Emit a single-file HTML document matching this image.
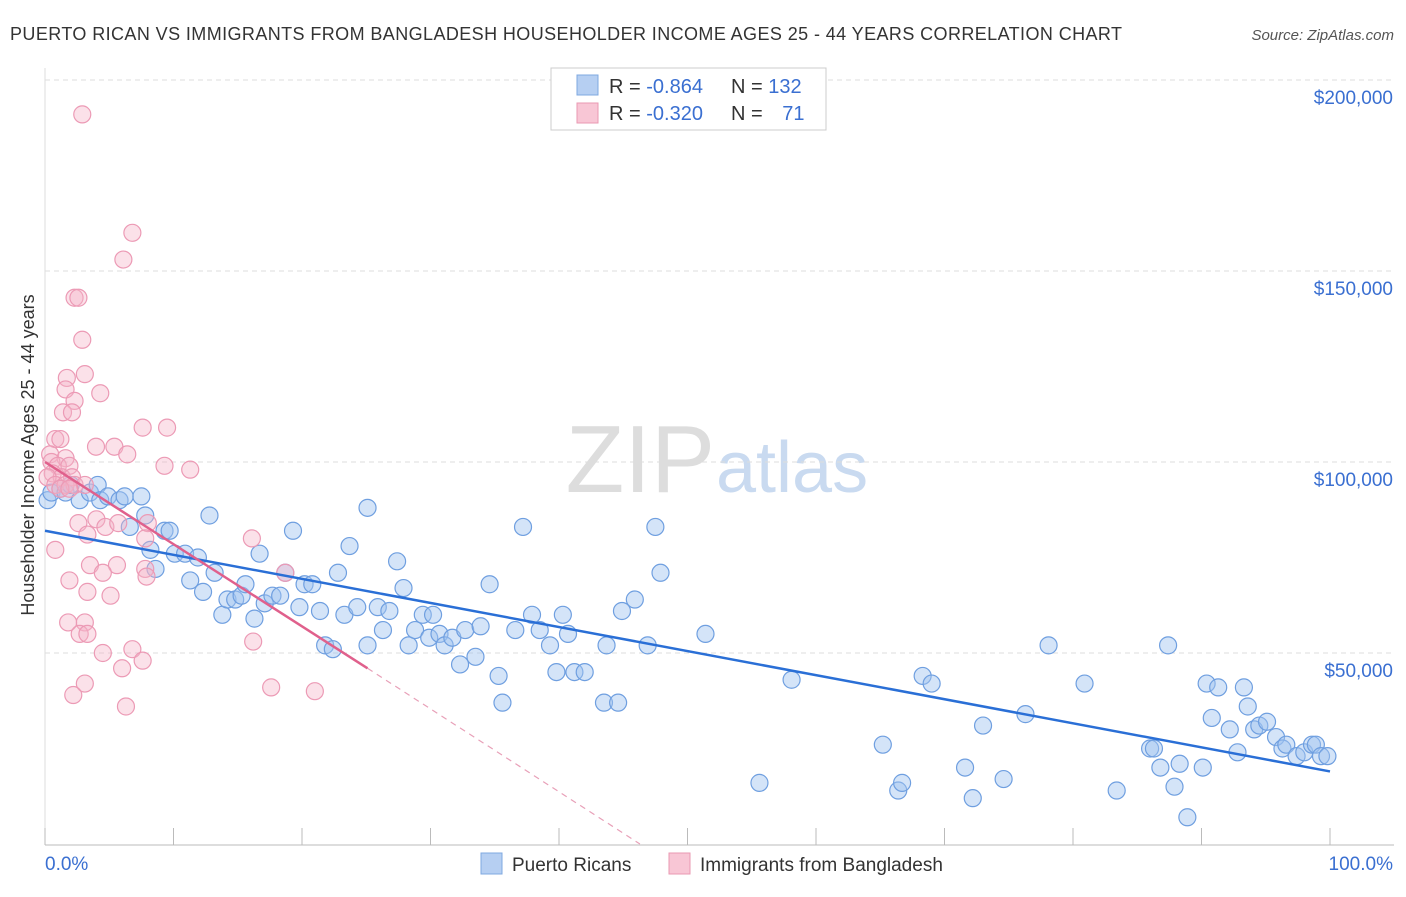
<!DOCTYPE html>
<html><head><meta charset="utf-8"><style>
body{margin:0;background:#fff;font-family:"Liberation Sans",sans-serif;}
svg text{font-family:"Liberation Sans",sans-serif;}
</style></head><body>
<svg id="chart" width="1406" height="892">
<text x="10" y="40" font-size="18" fill="#333" textLength="1112">PUERTO RICAN VS IMMIGRANTS FROM BANGLADESH HOUSEHOLDER INCOME AGES 25 - 44 YEARS CORRELATION CHART</text>
<text x="1394" y="40" font-size="15" fill="#555" font-style="italic" text-anchor="end">Source: ZipAtlas.com</text>
<text x="0" y="0" transform="translate(34,455) rotate(-90)" font-size="18" fill="#333" text-anchor="middle">Householder Income Ages 25 - 44 years</text>
<text x="715" y="492" font-size="96" fill="#ddd" text-anchor="end" font-family="Liberation Serif">ZIP</text>
<text x="716" y="492" font-size="72" fill="#c9daf0">atlas</text>
<g id="grid"></g><g id="axes"></g><g id="pts"></g><g id="lines"></g>
<g>
<rect x="551" y="68" width="275" height="62" fill="#fff" stroke="#ccc"/>
<rect x="577" y="75" width="21" height="20" fill="#b6cff2" stroke="#7fa8e0"/>
<rect x="577" y="103" width="21" height="20" fill="#f8c6d5" stroke="#ea98b2"/>
<text x="609" y="93" font-size="20" fill="#333">R = <tspan fill="#3a6fd1">-0.864</tspan></text>
<text x="731" y="93" font-size="20" fill="#333">N = <tspan fill="#3a6fd1">132</tspan></text>
<text x="609" y="120" font-size="20" fill="#333">R = <tspan fill="#3a6fd1">-0.320</tspan></text>
<text x="731" y="120" font-size="20" fill="#333">N = <tspan fill="#3a6fd1" dx="14">71</tspan></text>
</g>
<g>
<rect x="481" y="853" width="21" height="21" fill="#b6cff2" stroke="#7fa8e0"/>
<text x="512" y="871" font-size="19" fill="#333">Puerto Ricans</text>
<rect x="669" y="853" width="21" height="21" fill="#f8c6d5" stroke="#ea98b2"/>
<text x="700" y="871" font-size="19" fill="#333">Immigrants from Bangladesh</text>
</g>
</svg>
<script>
const yTicks=[50000,100000,150000,200000];
const yTickLabels=["$50,000","$100,000","$150,000","$200,000"];
const xTickLabels=["0.0%","100.0%"];
const bluePct=[0.2,0.5,1.2,1.6,2,2.7,3.5,4.1,4.3,4.9,5.8,6.2,7.5,6.6,7.8,8.2,8.6,9.3,9.7,10.1,10.9,11.3,11.9,12.3,12.8,13.2,13.8,14.2,14.8,15.3,15.6,16.3,16.7,17.1,17.7,18.3,18.7,19.3,19.8,20.2,20.8,21.4,21.8,22.4,22.8,23.3,23.7,24.3,25.1,25.1,25.9,26.3,26.8,27.4,27.9,28.3,28.8,29.4,29.9,30.2,30.7,31.1,31.7,32.3,32.7,33.5,33.9,34.6,35.3,35.6,36.6,37.2,37.9,38.5,39.3,39.8,40.3,40.7,41.2,42,43.5,43.7,44.6,44.9,45.9,46.9,47.5,47.9,51.4,55.6,58.1,65.2,66.4,66.7,68.3,69,71.6,72.2,73,74.6,76.3,78.1,80.9,83.4,86,86.3,86.8,87.4,87.9,88.3,88.9,90.1,90.4,90.8,91.3,92.2,92.8,93.3,93.6,94.1,94.5,95.1,95.8,96.3,96.6,97.4,98,98.6,98.9,99.3,99.8];
const blueVal=[90000,92000,93000,92000,94000,90000,92000,94000,90000,91000,90000,91000,91000,83000,86000,77000,72000,82000,82000,76000,76000,69000,75000,66000,86000,71000,60000,64000,64000,65000,68000,59000,76000,63000,65000,65000,71000,82000,62000,68000,68000,61000,52000,51000,71000,60000,78000,62000,52000,88000,62000,56000,61000,74000,67000,52000,56000,60000,54000,60000,55000,52000,54000,47000,56000,49000,57000,68000,44000,37000,56000,83000,60000,56000,52000,45000,60000,55000,45000,45000,37000,52000,37000,61000,64000,52000,83000,71000,55000,16000,43000,26000,14000,16000,44000,42000,20000,12000,31000,17000,34000,52000,42000,14000,25000,25000,20000,52000,15000,21000,7000,20000,42000,33000,41000,30000,24000,41000,36000,30000,31000,32000,28000,25000,26000,23000,24000,26000,26000,23000,23000];
const pinkPct=[2.9,6.8,6.1,2.3,2.6,2.9,3.1,1.7,1.6,2.3,4.3,1.4,2.1,7.6,9.5,0.8,1.2,3.97,5.4,6.4,0.4,1.6,0.5,1,1.9,9.3,11.3,0.6,1.3,2.1,0.2,0.8,1.6,2.3,3.1,1.2,1.9,2.6,4,4.7,5.7,8,7.8,16.1,3.3,0.8,3.5,5.6,7.8,4.5,1.9,7.9,18.7,3.3,5.1,1.8,3.1,2.7,3.3,16.2,6.8,4.5,7.6,6,3.1,2.2,17.6,21,6.3];
const pinkVal=[191000,160000,153000,143000,143000,132000,123000,122000,119000,116000,118000,113000,113000,109000,109000,106000,106000,104000,104000,102000,102000,101000,100000,99000,99000,99000,98000,97000,96000,96000,96000,94000,94000,94000,94000,93000,93000,84000,85000,83000,84000,84000,80000,80000,81000,77000,73000,73000,72000,71000,69000,70000,71000,66000,65000,58000,58000,55000,55000,53000,51000,50000,48000,46000,42000,39000,41000,40000,36000];
const blueLine=[82000,19000];
const pinkLine=[100000,46000,0];
const X0=45,X1=1330,Y50=653,PPV=191/50000;
const xs=p=>X0+(X1-X0)*p/100;
const ys=v=>Y50-(v-50000)*PPV;
const NS="http://www.w3.org/2000/svg";
function mk(tag,attrs,parent){const e=document.createElementNS(NS,tag);for(const k in attrs)e.setAttribute(k,attrs[k]);parent.appendChild(e);return e;}
const grid=document.getElementById('grid'),axes=document.getElementById('axes'),pts=document.getElementById('pts'),lines=document.getElementById('lines');
yTicks.forEach((v,i)=>{
 const l=mk('line',{x1:45,x2:1394,y1:ys(v),y2:ys(v),stroke:'#ddd','stroke-dasharray':'5,4'},grid);
 
 
 const t=mk('text',{x:1393,y:ys(v)+24,'font-size':19,fill:'#3a6fd1','text-anchor':'end'},axes);
 t.textContent=yTickLabels[i];
 
 
});
const ax=mk('line',{x1:45,x2:1394,y1:845,y2:845,stroke:'#bbb'},axes);


const ay=mk('line',{x1:45,x2:45,y1:68,y2:845,stroke:'#ddd'},axes);


for(let i=0;i<=10;i++){
 const tk=mk('line',{x1:xs(i*10),x2:xs(i*10),y1:828,y2:845,stroke:'#bbb'},axes);
 
 
}
const xl0=mk('text',{x:45,y:870,'font-size':19,fill:'#3a6fd1'},axes);xl0.textContent=xTickLabels[0];


const xl1=mk('text',{x:1393,y:870,'font-size':19,fill:'#3a6fd1','text-anchor':'end'},axes);xl1.textContent=xTickLabels[1];


const nb=Math.min(bluePct.length,blueVal.length);
for(let i=0;i<nb;i++){
 const c=mk('circle',{cx:xs(bluePct[i]),cy:ys(blueVal[i]),r:8.5,fill:'rgba(160,195,240,0.45)',stroke:'#6f9fe0','stroke-width':1.2},pts);
 
 
}
const np=Math.min(pinkPct.length,pinkVal.length);
for(let i=0;i<np;i++){
 const c=mk('circle',{cx:xs(pinkPct[i]),cy:ys(pinkVal[i]),r:8.5,fill:'rgba(246,180,200,0.4)',stroke:'#ec9ab5','stroke-width':1.2},pts);
 
 
}
const bl=mk('line',{x1:xs(0),y1:ys(blueLine[0]),x2:xs(100),y2:ys(blueLine[1]),stroke:'#2a6fd6','stroke-width':2.5},lines);


const pl=mk('line',{x1:xs(0),y1:ys(pinkLine[0]),x2:xs(25.1),y2:ys(pinkLine[1]),stroke:'#e0608c','stroke-width':2.5},lines);


const pd=mk('line',{x1:xs(25.1),y1:ys(pinkLine[1]),x2:xs(46.3),y2:ys(pinkLine[2]),stroke:'#e8a0b8','stroke-width':1.2,'stroke-dasharray':'6,5'},lines);


</script>
</body></html>
